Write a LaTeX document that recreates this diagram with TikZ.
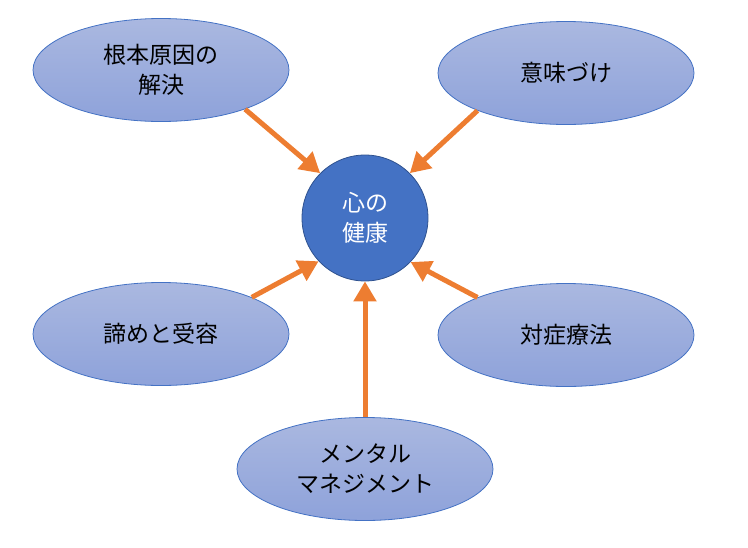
\documentclass[tikz,border=0pt]{standalone}
\usepackage{fontspec}
\setmainfont{Noto Sans CJK JP}
\usetikzlibrary{arrows.meta,shapes.geometric}
\definecolor{ebord}{HTML}{4472C4}
\definecolor{etop}{HTML}{AAB8E0}
\definecolor{ebot}{HTML}{8EA2DA}
\definecolor{cfill}{HTML}{4472C4}
\definecolor{cbord}{HTML}{2F528F}
\definecolor{arr}{HTML}{ED7D31}
\tikzset{
  oval/.style={ellipse, draw=ebord, line width=0.8pt, top color=etop, bottom color=ebot,
    minimum width=256pt, minimum height=103pt, inner sep=0pt, align=center,
    font=\fontsize{23pt}{30pt}\selectfont, text=black},
  hub/.style={circle, draw=cbord, line width=0.8pt, fill=cfill, minimum size=126pt,
    inner sep=0pt, align=center, font=\fontsize{23pt}{30pt}\selectfont, text=white},
  conn/.style={draw=arr, line width=5pt, -{Triangle[length=20pt,width=22pt]}, shorten <=0pt}
}
\begin{document}
\begin{tikzpicture}[x=1pt,y=-1pt]
\useasboundingbox (0,0) rectangle (748,547);
\node[hub] (c) at (365,218) {心の\\健康};
\node[oval] (tl) at (161,70) {根本原因の\\解決};
\node[oval] (tr) at (566,73) {意味づけ};
\node[oval] (ml) at (161,334) {諦めと受容};
\node[oval] (mr) at (566,335) {対症療法};
\node[oval] (b) at (365,469) {メンタル\\マネジメント};
\draw[conn] (tl.-25) -- (c.135);
\draw[conn] (tr.-157) -- (c.45);
\draw[conn] (ml.22) -- (c.-137);
\draw[conn] (mr.157) -- (c.-44);
\draw[conn] (b.north) -- (c.south);
\end{tikzpicture}
\end{document}
